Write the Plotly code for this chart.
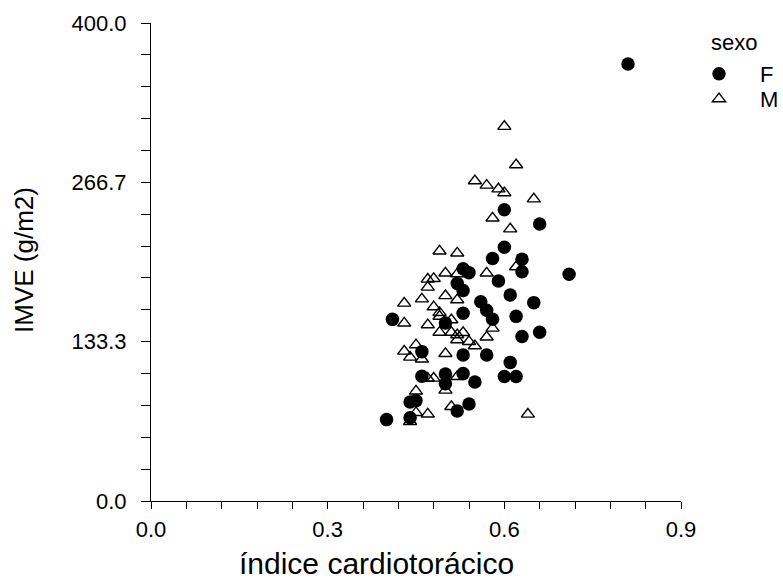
import plotly.graph_objects as go

# Índice cardiotorácico (x) e IMVE em g/m2 (y), por sexo
f_ict = [0.81, 0.60, 0.66, 0.60, 0.58, 0.63, 0.63, 0.71, 0.53, 0.54,
         0.59, 0.52, 0.53, 0.61, 0.56, 0.65, 0.57, 0.53, 0.62, 0.58,
         0.50, 0.41, 0.63, 0.66, 0.46, 0.53, 0.57, 0.61, 0.46, 0.50,
         0.50, 0.53, 0.55, 0.60, 0.62, 0.44, 0.45, 0.54, 0.52, 0.40,
         0.44]
f_imve = [365.7, 243.7, 231.8, 212.3, 203.0, 202.4, 191.9, 189.7, 194.3, 191.1,
          184.2, 182.1, 176.1, 172.3, 166.8, 166.0, 159.7, 157.2, 154.5, 152.1,
          149.0, 152.0, 137.7, 141.3, 125.0, 122.2, 122.2, 116.0, 104.4, 106.2,
          98.2, 106.6, 99.6, 104.1, 104.1, 82.9, 84.0, 81.2, 75.4, 68.1,
          69.7]

m_ict = [0.60, 0.62, 0.55, 0.57, 0.59, 0.60, 0.65, 0.58, 0.61, 0.49,
         0.52, 0.62, 0.57, 0.50, 0.47, 0.48, 0.47, 0.50, 0.46, 0.52,
         0.43, 0.48, 0.49, 0.49, 0.51, 0.43, 0.47, 0.49, 0.51, 0.52,
         0.53, 0.52, 0.54, 0.55, 0.57, 0.58, 0.43, 0.45, 0.44, 0.46,
         0.50, 0.47, 0.48, 0.52, 0.45, 0.50, 0.51, 0.45, 0.47, 0.44,
         0.64, 0.52]
m_imve = [313.4, 281.3, 267.9, 264.2, 261.1, 257.9, 252.7, 236.7, 227.6, 209.1,
          207.4, 195.9, 190.7, 190.7, 185.6, 186.1, 178.9, 171.8, 169.0, 168.3,
          165.5, 162.4, 157.7, 154.5, 151.6, 148.8, 147.4, 141.1, 141.1, 139.0,
          140.9, 134.8, 133.4, 129.8, 137.1, 144.6, 125.3, 130.6, 120.3, 118.7,
          123.3, 102.6, 102.7, 104.1, 91.9, 92.7, 79.0, 73.9, 72.7, 66.4,
          72.6, 190.1]

x_major = [0.0, 0.3, 0.6, 0.9]
x_labels = ["0.0", "0.3", "0.6", "0.9"]
y_major = [0.0, 400 / 3, 800 / 3, 400.0]
y_labels = ["0.0", "133.3", "266.7", "400.0"]

FONT = "Liberation Sans, Arial, Helvetica, sans-serif"

# plot area in pixels: left 151, right 681, top 23, bottom 501
L, R, T, B = 151, 681, 23, 501
PW, PH = R - L, B - T


def px_x(p):
    return (p - L) / PW


def px_y(p):
    return (B - p) / PH


fig = go.Figure()

fig.add_trace(go.Scatter(
    x=m_ict, y=m_imve, mode="markers", name="M", legend="legend2",
    marker=dict(symbol="triangle-up-open", size=11.5, color="black",
                line=dict(width=1.4, color="black")),
))
fig.add_trace(go.Scatter(
    x=f_ict, y=f_imve, mode="markers", name="F", legend="legend",
    marker=dict(symbol="circle", size=13.5, color="black",
                line=dict(width=0)),
))

legend_common = dict(
    xanchor="left", yanchor="middle", font=dict(size=22),
    bgcolor="rgba(0,0,0,0)", itemwidth=72, borderwidth=0,
)

fig.update_layout(
    width=783, height=579,
    margin=dict(l=L, r=783 - R, t=T, b=579 - B, autoexpand=False),
    paper_bgcolor="white", plot_bgcolor="white",
    font=dict(family=FONT, size=22, color="black"),
    showlegend=True,
    legend=dict(x=px_x(678), y=px_y(74), **legend_common),
    legend2=dict(x=px_x(678), y=px_y(99), **legend_common),
    xaxis=dict(
        range=[0, 0.9], showgrid=False, zeroline=False,
        showline=True, linecolor="black", linewidth=1,
        ticks="outside", ticklen=7, tickwidth=1, tickcolor="black",
        tickvals=x_major, ticktext=x_labels,
        ticklabelstandoff=2,
        minor=dict(dtick=0.06, tick0=0, ticks="outside", ticklen=7,
                   tickwidth=1, tickcolor="black", showgrid=False),
        tickfont=dict(size=22),
    ),
    yaxis=dict(
        range=[0, 400], showgrid=False, zeroline=False,
        showline=True, linecolor="black", linewidth=1,
        ticks="outside", ticklen=9, tickwidth=1, tickcolor="black",
        tickvals=y_major, ticktext=y_labels,
        ticklabelstandoff=10,
        minor=dict(dtick=400 / 15, tick0=0, ticks="outside", ticklen=9,
                   tickwidth=1, tickcolor="black", showgrid=False),
        tickfont=dict(size=22),
    ),
    annotations=[
        dict(text="índice cardiotorácico", xref="paper", yref="paper",
             x=px_x(376), y=px_y(563),
             xanchor="center", yanchor="middle", showarrow=False,
             font=dict(size=30)),
        dict(text="IMVE (g/m2)", xref="paper", yref="paper",
             x=px_x(24), y=px_y(260),
             xanchor="center", yanchor="middle", showarrow=False,
             textangle=-90, font=dict(size=26)),
        dict(text="sexo", xref="paper", yref="paper",
             x=px_x(709), y=px_y(42),
             xanchor="left", yanchor="middle", showarrow=False,
             font=dict(size=22)),
    ],
)

fig.write_html("out.html")
